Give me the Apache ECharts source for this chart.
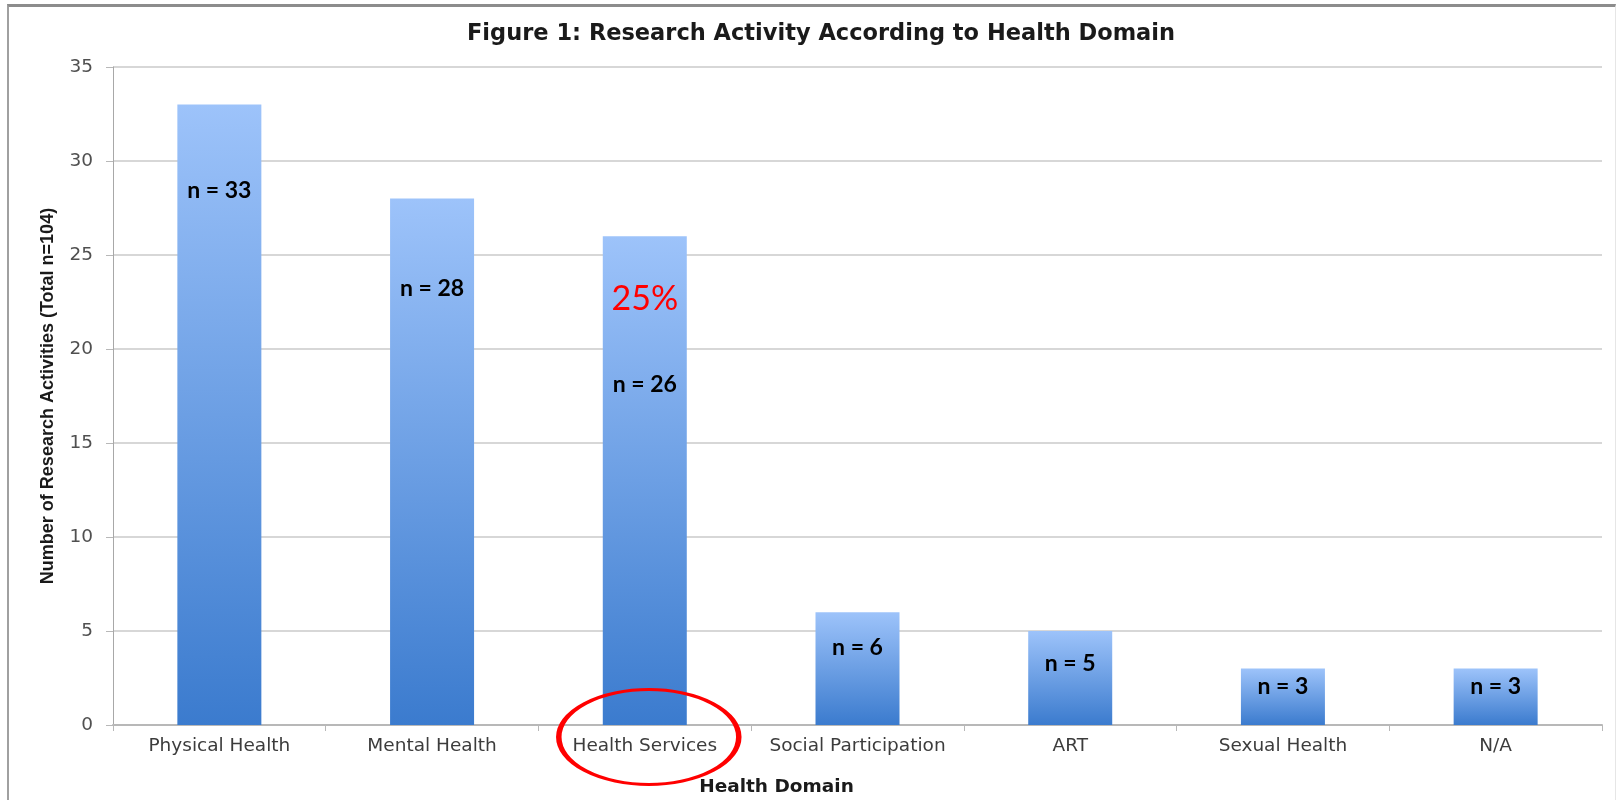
<!DOCTYPE html>
<html>
<head>
<meta charset="utf-8">
<script src="https://cdn.jsdelivr.net/npm/echarts@6/dist/echarts.min.js"></script>
<style>
  html, body { margin: 0; padding: 0; background: #fff; overflow: hidden; }
  #chart { width: 1623px; height: 800px; }
  #frame {
    position: absolute; left: 7px; top: 4px; width: 1609px; height: 800px;
    border-top: 3px solid #8c8c8c; border-left: 2px solid #a0a0a0; border-right: 1px solid #e6e6e6;
    pointer-events: none; box-sizing: border-box;
  }
</style>
</head>
<body>
<div id="chart"></div>
<div id="frame"></div>
<script>
const domains = ['Physical Health', 'Mental Health', 'Health Services', 'Social Participation', 'ART', 'Sexual Health', 'N/A'];
const counts = [33, 28, 26, 6, 5, 3, 3];
const highlightDomain = 'Health Services';
const highlightText = '25%';

// how far below the bar top each "n = x" sits (px)
const labelDrop = [86, 90, 148, 35, 33, 18, 18];

const chart = echarts.init(document.getElementById('chart'));

const barColor = new echarts.graphic.LinearGradient(0, 0, 0, 1, [
    { offset: 0, color: '#9dc3fa' },
    { offset: 1, color: '#3b7bce' }
]);

const hIdx = domains.indexOf(highlightDomain);

const option = {
    backgroundColor: '#fff',
    animation: false,
    title: {
        text: 'Figure 1: Research Activity According to Health Domain',
        left: 816,
        textAlign: 'center',
        top: 18,
        textStyle: { fontFamily: 'DejaVu Sans', fontWeight: 'bold', fontSize: 22.5, color: '#1a1a1a' }
    },
    grid: { left: 113, right: 21, top: 67, bottom: 75, outerBoundsMode: 'none', containLabel: false },
    xAxis: {
        type: 'category',
        data: domains,
        name: 'Health Domain',
        nameLocation: 'middle',
        nameGap: 53,
        nameTextStyle: {
            fontFamily: 'DejaVu Sans', fontWeight: 'bold', fontSize: 18.5, color: '#1a1a1a',
            padding: [0, 162, 0, 0]
        },
        axisLine: { lineStyle: { color: '#b8b8b8', width: 2 } },
        axisTick: { show: true, length: 6, lineStyle: { color: '#b8b8b8' } },
        axisLabel: {
            interval: 0, hideOverlap: false,
            margin: 12, fontFamily: 'DejaVu Sans', fontSize: 18.5, color: '#3c3c3c'
        }
    },
    yAxis: {
        type: 'value',
        min: 0,
        max: 35,
        interval: 5,
        name: 'Number of Research Activities (Total n=104)',
        nameLocation: 'middle',
        nameGap: 56,
        nameTextStyle: { fontFamily: 'Liberation Sans', fontWeight: 'bold', fontSize: 18, color: '#1a1a1a' },
        axisLine: { show: true, lineStyle: { color: '#a8a8a8', width: 1 } },
        axisTick: { show: true, length: 7, lineStyle: { color: '#b8b8b8' } },
        axisLabel: { margin: 20, fontFamily: 'DejaVu Sans', fontSize: 18.5, color: '#505050' },
        splitLine: { lineStyle: { color: '#cacaca', width: 1.5 } }
    },
    series: [{
        type: 'bar',
        barWidth: 84,
        data: counts.map((v, i) => ({
            value: v,
            label: { position: ['50%', labelDrop[i]] }
        })),
        itemStyle: { color: barColor },
        label: {
            show: true,
            align: 'center',
            verticalAlign: 'middle',
            formatter: p => 'n = ' + p.value,
            fontFamily: 'Lato',
            fontWeight: 'bold',
            fontSize: 23,
            color: '#000'
        },
        markPoint: {
            silent: true,
            data: [
                {
                    coord: [highlightDomain, counts[hIdx]],
                    symbolSize: 0,
                    label: {
                        show: true,
                        formatter: highlightText,
                        offset: [0, 63],
                        fontFamily: 'Lato',
                        fontSize: 34,
                        color: '#ff0000'
                    }
                },
                {
                    coord: [highlightDomain, 0],
                    symbol: 'path://M0,50 A100,50 0 1,1 200,50 A100,50 0 1,1 0,50 Z',
                    symbolSize: [180, 95],
                    symbolOffset: [4, 12],
                    itemStyle: { color: 'rgba(0,0,0,0)', borderColor: '#ff0000', borderWidth: 4 },
                    label: { show: false }
                }
            ]
        }
    }]
};

chart.setOption(option);
</script>
</body>
</html>
